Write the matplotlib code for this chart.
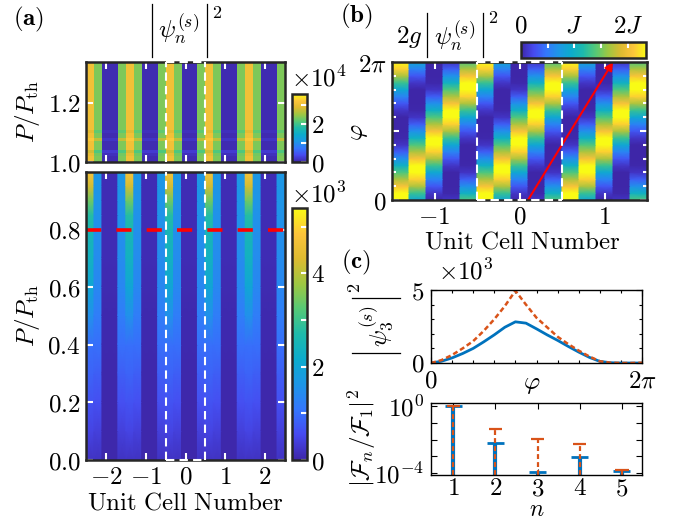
import numpy as np
import matplotlib
matplotlib.use("Agg")
import matplotlib.pyplot as plt
from matplotlib.colors import LinearSegmentedColormap
from matplotlib.lines import Line2D
from matplotlib.ticker import FixedLocator, LogLocator, NullFormatter

plt.rcParams["mathtext.fontset"] = "cm"
plt.rcParams["font.family"] = ["DejaVu Serif"]
plt.rcParams["axes.unicode_minus"] = False

# ---- data ---------------------------------------------------------------
# (a) upper map, P/Pth > 1: row edges and the three site types (x1e4)
P_TOP_EDGES = [1.0, 1.02, 1.03, 1.04, 1.07, 1.08, 1.10, 1.11, 1.34]
TOP_H = [3.10, 3.00, 2.80, 3.10, 3.25, 3.10, 2.95, 3.10]
TOP_M = [2.35, 2.30, 2.10, 2.35, 2.70, 2.35, 2.20, 2.35]
TOP_L = [0.05, 0.10, 0.20, 0.05, 0.15, 0.05, 0.10, 0.05]

# (a) lower map, P/Pth < 1 (x1e3)
P_LOW = [0.0, 0.1, 0.2, 0.3, 0.4, 0.5, 0.6, 0.7, 0.8, 0.85, 0.9, 0.95, 1.0]
SITE_H = [0.20, 0.45, 0.65, 0.85, 1.00, 1.50, 2.00, 2.35, 2.55, 2.75, 3.40, 4.20, 4.80]
SITE_M = [0.20, 0.40, 0.60, 0.80, 1.00, 1.20, 1.35, 1.45, 1.50, 1.55, 1.60, 1.62, 1.65]
SITE_L = [0.03, 0.03, 0.04, 0.04, 0.05, 0.05, 0.08, 0.10, 0.10, 0.10, 0.10, 0.10, 0.10]

# (c) |psi_3|^2 vs phi (x1e3), phi in units of pi
PHI_C = [0.0, 0.1, 0.2, 0.3, 0.4, 0.5, 0.6, 0.7, 0.8, 0.9, 1.0,
         1.1, 1.2, 1.3, 1.4, 1.5, 1.6, 1.7, 1.8, 1.9, 2.0]
PSI3_SOLID = [0, 0.12, 0.35, 0.65, 1.00, 1.45, 1.93, 2.45, 2.82, 2.73, 2.34,
              1.93, 1.55, 1.14, 0.75, 0.39, 0.11, 0.02, 0, 0, 0]
PSI3_DASH = [0, 0.20, 0.55, 1.00, 1.50, 2.20, 3.00, 3.90, 4.95, 4.00, 3.10,
             2.45, 1.80, 1.30, 0.85, 0.45, 0.12, 0.02, 0, 0, 0.02]

# (b) 2g|psi|^2 in units of J per 1e3 of |psi|^2
G2 = 0.88

# (c) Fourier weights
N_HARM = [1, 2, 3, 4, 5]
F_SOLID = [1.0, 6.5e-3, 1.26e-4, 9.7e-4, 1.4e-4]
F_DASH = [1.0, 4.2e-2, 1.02e-2, 5.2e-3, 1.5e-4]

# ---- parula-like colormap -----------------------------------------------
parula = LinearSegmentedColormap.from_list("parula", [
    (0.00, (0.2422, 0.1504, 0.6603)),
    (0.10, (0.2768, 0.2910, 0.9400)),
    (0.20, (0.2050, 0.4640, 0.9900)),
    (0.30, (0.1130, 0.5910, 0.9020)),
    (0.40, (0.0480, 0.6720, 0.8020)),
    (0.50, (0.1200, 0.7320, 0.6700)),
    (0.60, (0.3400, 0.7880, 0.4600)),
    (0.70, (0.6200, 0.7800, 0.2600)),
    (0.80, (0.8700, 0.7300, 0.1900)),
    (0.90, (0.9900, 0.7700, 0.2300)),
    (1.00, (0.9769, 0.9839, 0.0805)),
])

W, H = 686, 521
fig = plt.figure(figsize=(W / 100, H / 100), dpi=100)
FRAME = "#262626"
FS = 18
BLUE, ORANGE = "#0072BD", "#D95319"


def box(x0, y0, x1, y1):
    return [x0 / W, 1 - y1 / H, (x1 - x0) / W, (y1 - y0) / H]


def ftext(x, y, s, **kw):
    kw.setdefault("ha", "center")
    kw.setdefault("va", "center")
    kw.setdefault("fontsize", FS)
    fig.text(x / W, 1 - y / H, s, **kw)


def fline(x0, y0, x1, y1):
    # tall |..| delimiters like the LaTeX ones in the original
    fig.add_artist(Line2D([x0 / W, x1 / W], [1 - y0 / H, 1 - y1 / H],
                          transform=fig.transFigure, color="black", lw=0.9))


def crisp(edges, z):
    # two vertices per site so gouraud only blends along y
    xs = []
    for a, b in zip(edges[:-1], edges[1:]):
        xs += [a, b]
    return np.array(xs), np.repeat(np.asarray(z, float), 2, axis=1)


def style_map(ax):
    for sp in ax.spines.values():
        sp.set_color(FRAME)
        sp.set_linewidth(1.8)
        sp.set_zorder(5)
    ax.tick_params(which="both", direction="in", color="white", width=1.5,
                   length=5, top=True, right=True, labelsize=FS, pad=4)
    ax.tick_params(which="minor", length=3)


def style_line(ax):
    for sp in ax.spines.values():
        sp.set_linewidth(1.0)
    ax.tick_params(which="both", direction="in", color="black", width=0.8,
                   length=4, top=True, right=True, labelsize=FS, pad=5)
    ax.tick_params(which="minor", length=2.5)


def style_cb(cb):
    cb.outline.set_edgecolor(FRAME)
    cb.outline.set_linewidth(1.8)
    cb.ax.tick_params(which="both", direction="in", color="white", width=1.5,
                      length=4, labelsize=FS, pad=3)


wb = dict(color="white", lw=1.5, dashes=(4, 2.5), zorder=6)

# ---- (a) ----------------------------------------------------------------
x_edges = np.linspace(-2.5, 2.5, 26)

ax_at = fig.add_axes(box(86, 62, 285, 162))
z_top = [[h, m, l, l, m] * 5 for h, m, l in zip(TOP_H, TOP_M, TOP_L)]
m_top = ax_at.pcolormesh(x_edges, P_TOP_EDGES, z_top, cmap=parula,
                         vmin=0, vmax=3.6, shading="flat")
ax_at.set_xlim(-2.5, 2.5)
ax_at.set_ylim(1.0, 1.34)
ax_at.set_xticks([-2, -1, 0, 1, 2])
ax_at.set_xticklabels([])
ax_at.set_yticks([1.0, 1.2])
ax_at.set_yticklabels([r"$1.0$", r"$1.2$"])
style_map(ax_at)
ax_at.axvline(-0.5, **wb)
ax_at.axvline(0.5, **wb)
ax_at.plot([-0.5, 0.5], [1.34, 1.34], clip_on=False, **wb)

ax_ab = fig.add_axes(box(86, 172, 285, 460))
z_low = [[h, m, l, l, m] * 5 for h, m, l in zip(SITE_H, SITE_M, SITE_L)]
Xa, Za = crisp(x_edges, z_low)
m_low = ax_ab.pcolormesh(Xa, P_LOW, Za, cmap=parula, vmin=0, vmax=5.4,
                         shading="gouraud")
ax_ab.set_xlim(-2.5, 2.5)
ax_ab.set_ylim(0, 1.0)
ax_ab.set_xticks([-2, -1, 0, 1, 2])
ax_ab.set_xticklabels([r"$-2$", r"$-1$", r"$0$", r"$1$", r"$2$"])
ax_ab.set_yticks([0, 0.2, 0.4, 0.6, 0.8])
ax_ab.set_yticklabels([r"$0.0$", r"$0.2$", r"$0.4$", r"$0.6$", r"$0.8$"])
style_map(ax_ab)
ax_ab.axvline(-0.5, **wb)
ax_ab.axvline(0.5, **wb)
ax_ab.plot([-0.5, 0.5], [0, 0], clip_on=False, **wb)
ax_ab.axhline(0.8, color="red", lw=2.6, dashes=(4.2, 4.2), zorder=4)

cax1 = fig.add_axes(box(292, 94, 307, 162))
cb1 = fig.colorbar(m_top, cax=cax1)
cb1.set_ticks([0, 2])
cb1.set_ticklabels([r"$0$", r"$2$"])
cax1.yaxis.set_minor_locator(FixedLocator([1, 3]))
style_cb(cb1)

cax2 = fig.add_axes(box(292, 208, 307, 460))
cb2 = fig.colorbar(m_low, cax=cax2)
cb2.set_ticks([0, 2, 4])
cb2.set_ticklabels([r"$0$", r"$2$", r"$4$"])
cax2.yaxis.set_minor_locator(FixedLocator([1, 3, 5]))
style_cb(cb2)

ftext(29, 19, r"$\mathbf{(a)}$")
fline(152, 4, 152, 57)
fline(207, 4, 207, 57)
ftext(179, 30, r"$\psi_n^{(s)}$")
ftext(217, 13, r"$2$", fontsize=13)
ftext(28, 112, r"$P/P_{\rm th}$", rotation=90)
ftext(28, 316, r"$P/P_{\rm th}$", rotation=90)
ftext(185, 503, r"$\mathrm{Unit\ Cell\ Number}$")
ftext(291, 79, r"$\times10^4$", ha="left")
ftext(291, 195, r"$\times10^3$", ha="left")

# ---- (b) ----------------------------------------------------------------
b_edges = np.linspace(-1.5, 1.5, 16)
n_per = len(PHI_C) - 1
z_b = []
for k in range(len(PHI_C)):
    z_b.append([G2 * PSI3_SOLID[(k - 4 * (j - 2)) % n_per] for j in range(15)])
Xb, Zb = crisp(b_edges, z_b)
ax_b = fig.add_axes(box(392, 62, 647, 200))
m_b = ax_b.pcolormesh(Xb, np.array(PHI_C) * np.pi, Zb, cmap=parula,
                      vmin=0, vmax=2.34, shading="gouraud")
ax_b.set_xlim(-1.5, 1.5)
ax_b.set_ylim(0, 2 * np.pi)
ax_b.set_xticks([-1, 0, 1])
ax_b.set_xticklabels([r"$-1$", r"$0$", r"$1$"])
ax_b.set_yticks([0, np.pi, 2 * np.pi])
ax_b.set_yticklabels([r"$0$", "", r"$2\pi$"])
ax_b.yaxis.set_minor_locator(FixedLocator(np.arange(1, 10) * 0.2 * np.pi))
style_map(ax_b)
ax_b.axvline(-0.5, **wb)
ax_b.axvline(0.5, **wb)
ax_b.plot([-0.5, 0.5], [0, 0], clip_on=False, **wb)
ax_b.plot([-0.5, 0.5], [2 * np.pi, 2 * np.pi], clip_on=False, **wb)
ax_b.annotate("", xy=(1.1, 2 * np.pi), xytext=(0.1, 0),
              arrowprops=dict(arrowstyle="-|>", color="red", lw=1.5,
                              mutation_scale=12, shrinkA=0, shrinkB=0))

cax3 = fig.add_axes(box(521, 42, 646, 58))
cb3 = fig.colorbar(m_b, cax=cax3, orientation="horizontal")
cb3.set_ticks([0, 1, 2])
cb3.set_ticklabels([r"$0$", r"$J$", r"$2J$"])
cax3.xaxis.set_minor_locator(FixedLocator([0.5, 1.5]))
style_cb(cb3)
cax3.tick_params(which="both", top=True, bottom=False, labeltop=True,
                 labelbottom=False)

ftext(356, 16, r"$\mathbf{(b)}$")
ftext(409, 37, r"$2g$")
fline(427, 13, 427, 57)
fline(483, 13, 483, 57)
ftext(455, 37, r"$\psi_n^{(s)}$")
ftext(493, 18, r"$2$", fontsize=13)
ftext(358, 132, r"$\varphi$", rotation=90)
ftext(522, 242, r"$\mathrm{Unit\ Cell\ Number}$")

# ---- (c) ----------------------------------------------------------------
ax_c1 = fig.add_axes(box(431, 290, 642, 363))
phi = np.array(PHI_C) * np.pi
ax_c1.plot(phi, PSI3_SOLID, color=BLUE, lw=2.0)
ax_c1.plot(phi, PSI3_DASH, color=ORANGE, lw=1.8, dashes=(2, 1.2))
ax_c1.set_xlim(0, 2 * np.pi)
ax_c1.set_ylim(0, 5)
ax_c1.set_xticks([0, 2 * np.pi])
ax_c1.set_xticklabels([r"$0$", r"$2\pi$"])
ax_c1.xaxis.set_minor_locator(FixedLocator(np.arange(1, 10) * 0.2 * np.pi))
ax_c1.set_yticks([0, 5])
ax_c1.set_yticklabels([r"$0$", r"$5$"])
ax_c1.yaxis.set_minor_locator(FixedLocator([1, 2, 3, 4]))
style_line(ax_c1)

ax_c2 = fig.add_axes(box(431, 403, 642, 475))
n = np.array(N_HARM)
ax_c2.vlines(n, 1e-6, F_SOLID, color=BLUE, lw=3.0)
ax_c2.hlines(F_SOLID, n - 0.2, n + 0.2, color=BLUE, lw=2.0)
ax_c2.vlines(n, 1e-6, F_DASH, color=ORANGE, lw=1.6, linestyles=(0, (2.2, 1.4)))
ax_c2.hlines(F_DASH, n - 0.16, n + 0.16, color=ORANGE, lw=1.6)
ax_c2.set_yscale("log")
ax_c2.set_ylim(8e-5, 1.45)
ax_c2.set_xlim(0.47, 5.48)
ax_c2.set_xticks(N_HARM)
ax_c2.set_xticklabels([rf"${v}$" for v in N_HARM])
ax_c2.set_yticks([1e-4, 1e-3, 1e-2, 1e-1, 1])
ax_c2.set_yticklabels([r"$10^{-4}$", "", "", "", r"$10^{0}$"])
ax_c2.yaxis.set_minor_locator(LogLocator(base=10, subs=np.arange(2, 10)))
ax_c2.yaxis.set_minor_formatter(NullFormatter())
style_line(ax_c2)
ax_c2.tick_params(axis="x", pad=1.5)

ftext(356, 262, r"$\mathbf{(c)}$")
ftext(466, 272, r"$\times10^3$")
fline(352, 298, 400, 298)
fline(352, 353, 400, 353)
ftext(377, 326, r"$\psi_3^{(s)}$", rotation=90)
ftext(355, 288, r"$2$", fontsize=13, rotation=90)
ftext(532, 384, r"$\varphi$")
ftext(362, 438, r"$\left|\mathcal{F}_n/\mathcal{F}_1\right|^2$", rotation=90)
ftext(537, 510, r"$n$", fontsize=17)

fig.savefig("out.png", dpi=100)
